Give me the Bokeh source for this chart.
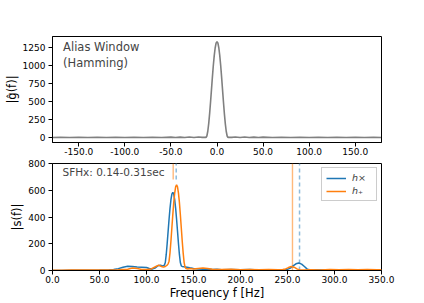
from bokeh.plotting import figure
from bokeh.layouts import column
from bokeh.models import FixedTicker, PrintfTickFormatter, Label, Legend, LegendItem
from bokeh.embed import file_html
from bokeh.resources import INLINE

# ---- top panel: alias window (Hamming) spectrum ----
g_freq = [-178, -170, -160, -150, -140, -130, -120, -110, -100, -90, -80, -70, -60, -50, -45, -40, -35,
          -30, -25, -20, -16, -13, -12, -11, -10, -9, -8, -7, -6, -5, -4, -3, -2, -1, 0,
          1, 2, 3, 4, 5, 6, 7, 8, 9, 10, 11, 12, 13, 16, 20, 25, 30, 35, 40, 45, 50,
          60, 70, 80, 90, 100, 110, 120, 130, 140, 150, 160, 170, 178]
g_amp = [2, 4, 2, 4, 2, 4, 2, 5, 2, 5, 3, 6, 3, 7, 3, 8, 3,
         9, 3, 10, 4, 6, 1, 23, 89, 195, 333, 493, 665, 837, 998, 1135, 1241, 1307, 1330,
         1307, 1241, 1135, 998, 837, 665, 493, 333, 195, 89, 23, 1, 6, 4, 10, 3, 9, 3, 8, 3, 7,
         3, 6, 3, 5, 2, 5, 2, 4, 2, 4, 2, 4, 2]
top_xticks = [-150, -100, -50, 0, 50, 100, 150]
top_yticks = [0, 250, 500, 750, 1000, 1250]

# ---- bottom panel: SFHx spectra ----
cross_freq = [0, 10, 20, 30, 40, 50, 60, 65, 70, 75, 80, 85, 90, 95, 100, 103, 106, 109, 112, 115,
              117, 119, 120, 121, 122, 123, 124, 125, 126, 127, 128, 129, 130, 131, 132, 133, 134,
              135, 136, 137, 138, 140, 143, 146, 150, 155,
              160, 165, 170, 175, 180, 190, 200, 210, 220, 230, 240, 245, 250, 253, 256, 259, 262,
              265, 268, 271, 275, 280, 290, 300, 310, 320, 330, 340, 350]
cross_amp = [0, 0, 1, 1, 2, 3, 5, 8, 14, 24, 32, 30, 27, 25, 22, 15, 10, 18, 35, 40,
             32, 40, 60, 120, 202, 293, 383, 465, 529, 571, 585, 571, 529, 465, 383, 293, 202,
             120, 60, 35, 30, 28, 25, 20, 15, 12,
             10, 12, 8, 10, 6, 8, 5, 7, 4, 6, 3, 5, 8, 18, 35, 50, 56,
             48, 30, 10, 3, 5, 3, 6, 4, 6, 3, 5, 3]
plus_freq = [0, 10, 20, 30, 40, 50, 60, 70, 80, 85, 90, 95, 100, 105, 110, 113, 116, 118, 120, 122,
             123, 124, 125, 126, 127, 128, 129, 130, 131, 132, 133, 134, 135, 136, 137, 138, 139,
             140, 141, 142, 144, 146, 150, 155, 160, 165, 170,
             180, 190, 200, 210, 220, 230, 240, 245, 248, 251, 254, 257, 260, 263, 267, 275, 285,
             295, 305, 315, 325, 335, 345, 350]
plus_amp = [2, 2, 3, 3, 4, 4, 4, 5, 10, 18, 15, 8, 8, 12, 30, 40, 30, 25, 30, 40,
            50, 70, 132, 221, 320, 419, 509, 579, 625, 640, 625, 579, 509, 419, 320, 221, 132,
            61, 25, 15, 12, 15, 12, 15, 18, 15, 10,
            8, 10, 6, 8, 6, 8, 6, 8, 12, 22, 30, 25, 12, 4, 3, 6, 4,
            8, 5, 8, 5, 8, 5, 6]
plus_vlines = [128.4, 255.3]
cross_vlines = [131.6, 262.8]
vline_bottoms = [680, 0]
bot_xticks = [0, 50, 100, 150, 200, 250, 300, 350]
bot_yticks = [0, 200, 400, 600, 800]

BLUE = "#1f77b4"
ORANGE = "#ff7f0e"
FONT = "DejaVu Sans"


def style(p):
    p.outline_line_color = "black"
    p.outline_line_width = 1
    p.xgrid.visible = False
    p.ygrid.visible = False
    for ax in (p.xaxis[0], p.yaxis[0]):
        ax.major_tick_out = 4
        ax.major_tick_in = 0
        ax.minor_tick_out = 0
        ax.minor_tick_in = 0
        ax.major_label_standoff = 3
        ax.major_label_text_font = FONT
        ax.major_label_text_font_size = "9px"
        ax.major_label_text_color = "black"
        ax.axis_label_text_font = FONT
        ax.axis_label_text_font_size = "11.5px"
        ax.axis_label_text_font_style = "normal"
        ax.axis_label_text_color = "black"
        ax.axis_line_color = "black"
        ax.major_tick_line_color = "black"
        ax.axis_label_standoff = 2
    p.yaxis[0].axis_label_standoff = 1
    p.xaxis[0].major_label_standoff = 1
    p.xaxis[0].axis_label_standoff = 0


top = figure(frame_width=329, frame_height=106, x_range=(-178.5, 178.5), y_range=(-67, 1400),
             output_backend="svg", toolbar_location=None,
             min_border_left=44, min_border_right=30, min_border_top=36, min_border_bottom=16)
top.line(g_freq, g_amp, line_color="gray", line_width=1.6)
style(top)
top.xaxis[0].ticker = FixedTicker(ticks=top_xticks)
top.xaxis[0].formatter = PrintfTickFormatter(format="%.1f")
top.yaxis[0].ticker = FixedTicker(ticks=top_yticks)
top.yaxis[0].axis_label = "|ĝ(f)|"
top.add_layout(Label(x=-167, y=1250, text="Alias Window", text_font=FONT, text_font_size="11.5px",
                     text_baseline="middle"))
top.add_layout(Label(x=-167, y=1032, text="(Hamming)", text_font=FONT, text_font_size="11.5px",
                     text_baseline="middle"))

bot = figure(frame_width=329, frame_height=107, x_range=(0, 350), y_range=(0, 800),
             output_backend="svg", toolbar_location=None,
             min_border_left=44, min_border_right=30, min_border_top=5, min_border_bottom=20)
bot.segment(x0=plus_vlines, y0=vline_bottoms, x1=plus_vlines, y1=[800, 800],
            line_color=ORANGE, line_alpha=0.55, line_width=1.4)
bot.segment(x0=cross_vlines, y0=vline_bottoms, x1=cross_vlines, y1=[800, 800],
            line_color="#8dbbdc", line_alpha=1.0, line_width=1.5, line_dash="4 3")
r_cross = bot.line(cross_freq, cross_amp, line_color=BLUE, line_width=1.5)
r_plus = bot.line(plus_freq, plus_amp, line_color=ORANGE, line_width=1.5)
style(bot)
bot.xaxis[0].ticker = FixedTicker(ticks=bot_xticks)
bot.xaxis[0].formatter = PrintfTickFormatter(format="%.1f")
bot.yaxis[0].ticker = FixedTicker(ticks=bot_yticks)
bot.yaxis[0].axis_label = "|s(f)|"
bot.xaxis[0].axis_label = "Frequency f [Hz]"
bot.add_layout(Label(x=10.6, y=734, text="SFHx: 0.14-0.31sec", text_font=FONT,
                     text_font_size="10.5px", text_baseline="middle"))
legend = Legend(items=[LegendItem(label="h×", renderers=[r_cross]),
                       LegendItem(label="h₊", renderers=[r_plus])],
                location="top_right", label_text_font=FONT, label_text_font_size="9.5px",
                label_text_font_style="italic", glyph_width=20, glyph_height=10,
                label_height=10, spacing=2, padding=4, margin=4,
                border_line_color="#cccccc", border_line_alpha=1.0,
                background_fill_alpha=0.8, label_standoff=6)
bot.add_layout(legend)

layout = column(top, bot, spacing=0, margin=(0, 0, 0, 1))
open("out.html", "w").write(file_html(layout, INLINE))
